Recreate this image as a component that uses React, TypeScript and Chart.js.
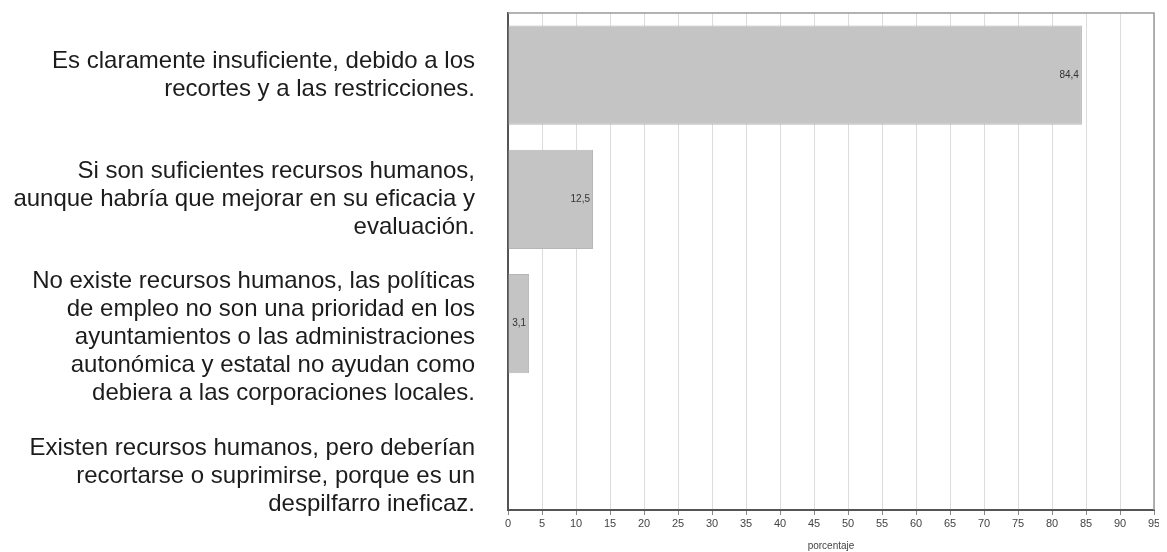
import React, { useEffect, useRef } from "react";
import { Chart, registerables } from "chart.js";

Chart.register(...registerables);

const categories: string[][] = [
  ["Es claramente insuficiente, debido a los", "recortes y a las restricciones."],
  ["Si son suficientes recursos humanos,", "aunque habría que mejorar en su eficacia y", "evaluación."],
  [
    "No existe recursos humanos, las políticas",
    "de empleo no son una prioridad en los",
    "ayuntamientos o las administraciones",
    "autonómica y estatal no ayudan como",
    "debiera a las corporaciones locales.",
  ],
  ["Existen recursos humanos, pero deberían", "recortarse o suprimirse, porque es un", "despilfarro ineficaz."],
];
const values: number[] = [84.4, 12.5, 3.1, 0];
const xMin = 0;
const xMax = 95;
const xStep = 5;
const xTitle = "porcentaje";

// layout tweak: blank lines placed above each label block (vertical alignment as in the source)
const labelLeadingBlankLines = [0, 0, 1, 2];

const FONT = "'Liberation Sans', Arial, Helvetica, sans-serif";

const frameAndLabels = {
  id: "frameAndLabels",
  afterDatasetsDraw(chart: any) {
    const ctx = chart.ctx;
    const meta = chart.getDatasetMeta(0);
    ctx.save();
    ctx.font = `10px ${FONT}`;
    ctx.fillStyle = "#333";
    ctx.textAlign = "right";
    ctx.textBaseline = "middle";
    meta.data.forEach((bar: any, i: number) => {
      const v = values[i];
      if (!v) return;
      ctx.fillText(String(v).replace(".", ","), bar.x - 3, bar.y);
    });
    ctx.restore();
  },
  afterDraw(chart: any) {
    const { ctx, chartArea } = chart;
    ctx.save();
    ctx.strokeStyle = "#9a9a9a";
    ctx.lineWidth = 1.5;
    ctx.beginPath();
    ctx.moveTo(chartArea.left, chartArea.top);
    ctx.lineTo(chartArea.right, chartArea.top);
    ctx.lineTo(chartArea.right, chartArea.bottom);
    ctx.stroke();
    ctx.restore();
  },
};

export default function App() {
  const ref = useRef<HTMLCanvasElement | null>(null);
  useEffect(() => {
    if (!ref.current) return;
    const chart = new Chart(ref.current, {
      type: "bar",
      data: {
        labels: categories,
        datasets: [
          {
            data: values,
            backgroundColor: "#c4c4c4",
            borderColor: "#b6b6b6",
            borderWidth: 1,
            barPercentage: 0.8,
            categoryPercentage: 1,
          },
        ],
      },
      options: {
        indexAxis: "y",
        animation: false,
        responsive: true,
        maintainAspectRatio: false,
        layout: { padding: { top: 5, right: 5, left: 0, bottom: 0 } },
        plugins: {
          legend: { display: false },
          tooltip: { enabled: false },
          title: { display: false },
        },
        scales: {
          x: {
            type: "linear",
            min: xMin,
            max: xMax,
            ticks: {
              stepSize: xStep,
              color: "#444",
              font: { family: FONT, size: 11 },
              padding: 2,
              maxRotation: 0,
            },
            grid: {
              color: "#dcdcdc",
              lineWidth: 1,
              drawTicks: true,
              tickLength: 5,
              tickColor: "#888",
            },
            border: { display: true, color: "#555", width: 2 },
            title: {
              display: true,
              text: xTitle,
              color: "#444",
              font: { family: FONT, size: 10 },
              padding: { top: 0, bottom: 0 },
            },
            afterFit: (scale: any) => {
              scale.height = 42;
              scale.paddingLeft = 0;
              scale.paddingRight = 0;
            },
          },
          y: {
            type: "category",
            ticks: {
              color: "#1c1c1c",
              font: { family: FONT, size: 24, lineHeight: 28 / 24 },
              padding: 33,
              autoSkip: false,
              callback: (_v: any, i: number) => {
                const blanks = new Array(labelLeadingBlankLines[i] || 0).fill("");
                return [...blanks, ...categories[i]];
              },
            },
            grid: { display: false, drawTicks: false },
            border: { display: true, color: "#555", width: 2 },
            afterFit: (scale: any) => {
              scale.width = 500;
              scale.paddingTop = 0;
              scale.paddingBottom = 0;
            },
          },
        },
      },
      plugins: [frameAndLabels],
    });
    return () => chart.destroy();
  }, []);
  return (
    <div style={{ position: "relative", width: 1151, height: 544 }}>
      <canvas ref={ref} />
    </div>
  );
}
